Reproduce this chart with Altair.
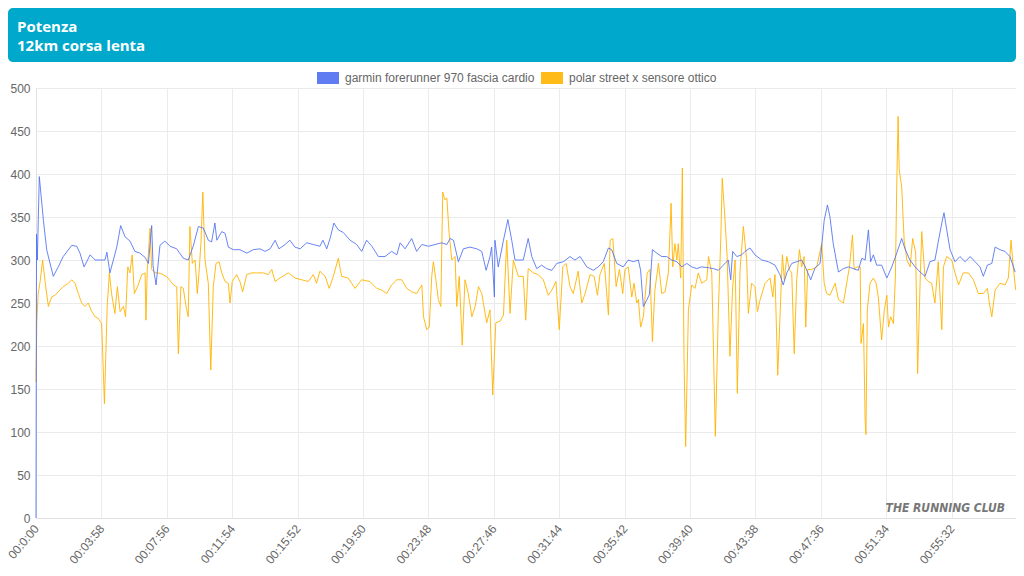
import altair as alt
import pandas as pd

# ---- data (seconds, watts) ----
garmin_t = [0, 2, 5, 7, 12, 27, 39, 48, 63, 81, 99, 130, 148, 160, 175, 197, 215, 233, 251, 258,
            269, 294, 308, 324, 342, 360, 378, 397, 409, 421, 426, 437, 451, 469, 488, 512, 536, 554,
            572, 591, 609, 627, 639, 651, 658, 676, 688, 700, 718, 742, 767, 791, 815, 833, 852, 870,
            884, 906, 924, 942, 961, 985, 1009, 1033, 1044, 1058, 1070, 1084, 1100, 1118, 1143, 1167,
            1185, 1203, 1222, 1246, 1270, 1294, 1313, 1325, 1343, 1367, 1385, 1404, 1428, 1452, 1476,
            1495, 1507, 1519, 1537, 1555, 1579, 1604, 1622, 1638, 1652, 1658, 1668, 1670, 1682, 1701,
            1717, 1731, 1743, 1758, 1773, 1791, 1804, 1822, 1840, 1858, 1877, 1895, 1919, 1943, 1961,
            1980, 2004, 2028, 2046, 2064, 2083, 2095, 2113, 2137, 2155, 2174, 2192, 2200, 2210, 2222,
            2232, 2243, 2259, 2277, 2295, 2313, 2332, 2350, 2368, 2386, 2404, 2422, 2447, 2465, 2483,
            2501, 2519, 2528, 2535, 2550, 2568, 2580, 2598, 2616, 2641, 2665, 2689, 2707, 2719, 2732,
            2750, 2768, 2786, 2798, 2819, 2835, 2853, 2868, 2880, 2889, 2901, 2920, 2938, 2956, 2974,
            2992, 3005, 3017, 3029, 3037, 3047, 3059, 3077, 3096, 3114, 3132, 3150, 3162, 3180, 3199,
            3217, 3235, 3253, 3271, 3283, 3296, 3304, 3314, 3326, 3344, 3362, 3381, 3399, 3417, 3435,
            3447, 3462, 3478, 3490, 3508, 3526, 3544, 3563]
garmin_v = [0, 330, 300, 330, 397, 346, 312, 300, 281, 292, 304, 317, 316, 308, 292, 306, 300, 300, 300, 309,
            285, 315, 340, 327, 322, 310, 308, 303, 296, 340, 293, 271, 317, 322, 316, 313, 302, 300,
            316, 339, 337, 323, 321, 343, 323, 333, 331, 315, 312, 312, 308, 312, 313, 310, 313, 323,
            313, 318, 323, 315, 313, 320, 318, 316, 323, 313, 325, 343, 335, 332, 323, 318,
            310, 323, 316, 304, 304, 310, 306, 320, 313, 325, 310, 318, 316, 318, 320,
            318, 325, 323, 298, 313, 315, 313, 310, 288, 304, 315, 257, 323, 292, 323,
            347, 323, 300, 300, 300, 325, 304, 290, 294, 290, 288, 296, 298, 304, 300,
            304, 292, 288, 292, 298, 314, 312, 296, 292, 300, 298, 300, 288, 246, 253,
            260, 312, 308, 304, 304, 300, 298, 292, 296, 292, 290, 292, 291, 290, 288,
            294, 300, 277, 310, 304, 306, 310, 314, 306, 300, 298, 294, 283, 271, 285,
            296, 298, 300, 293, 277, 291, 296, 346, 364, 350, 319, 286, 290, 292, 290,
            288, 302, 300, 335, 298, 306, 294, 294, 279, 292, 308, 325, 313, 300, 292,
            286, 281, 298, 300, 321, 343, 355, 335, 312, 298, 304, 298, 304, 298, 292,
            281, 294, 296, 315, 312, 310, 304, 286]

polar_t = [0, 3, 8, 15, 24, 33, 45, 57, 69, 81, 99, 118, 130, 142, 154, 166, 178, 190, 203, 215,
           227, 239, 249, 259, 267, 275, 287, 296, 306, 318, 326, 334, 342, 350, 358, 372, 385, 397,
           400, 405, 415, 421, 433, 445, 463, 481, 500, 512, 518, 527, 536, 546, 554, 560, 569, 579,
           587, 594, 600, 607, 615, 627, 636, 645, 655, 666, 676, 688, 700, 706, 714, 730, 742, 752,
           767, 785, 803, 827, 845, 858, 870, 888, 918, 943, 967, 991, 1009, 1021, 1033, 1052, 1067,
           1082, 1100, 1112, 1136, 1161, 1185, 1215, 1240, 1258, 1276, 1294, 1313, 1331, 1349, 1367,
           1385, 1404, 1410, 1422, 1431, 1440, 1446, 1455, 1464, 1473, 1480, 1488, 1495, 1503, 1513,
           1525, 1531, 1540, 1551, 1561, 1573, 1586, 1598, 1610, 1622, 1640, 1652, 1662, 1673, 1689,
           1701, 1713, 1725, 1737, 1755, 1773, 1782, 1791, 1810, 1828, 1846, 1864, 1877, 1892, 1904,
           1917, 1929, 1943, 1955, 1973, 1986, 1998, 2016, 2031, 2043, 2052, 2068, 2083, 2089, 2099,
           2111, 2123, 2135, 2143, 2155, 2168, 2176, 2186, 2192, 2200, 2210, 2224, 2234, 2243, 2252,
           2265, 2277, 2289, 2301, 2311, 2317, 2325, 2332, 2337, 2346, 2352, 2358, 2364, 2374, 2386,
           2398, 2410, 2422, 2441, 2447, 2459, 2472, 2483, 2492, 2497, 2505, 2515, 2525, 2535, 2544,
           2552, 2562, 2574, 2586, 2592, 2604, 2616, 2625, 2635, 2653, 2671, 2681, 2689, 2699, 2710,
           2716, 2723, 2732, 2741, 2750, 2759, 2768, 2778, 2786, 2795, 2801, 2808, 2823, 2841, 2859,
           2868, 2877, 2889, 2908, 2920, 2938, 2952, 2960, 2971, 2977, 2987, 2999, 3002, 3011, 3017,
           3020, 3025, 3035, 3047, 3057, 3065, 3077, 3087, 3096, 3102, 3110, 3120, 3127, 3132, 3137,
           3141, 3150, 3159, 3169, 3181, 3190, 3201, 3208, 3217, 3223, 3235, 3247, 3259, 3271, 3283,
           3296, 3302, 3314, 3332, 3344, 3357, 3374, 3393, 3411, 3429, 3447, 3462, 3469, 3478, 3490,
           3508, 3526, 3538, 3548, 3556, 3565]
polar_v = [158, 228, 261, 275, 300, 275, 246, 257, 259, 263, 269, 273, 277, 273, 261, 250, 246, 250, 240, 234,
           232, 226, 133, 246, 285, 261, 238, 269, 240, 246, 234, 292, 285, 306, 261, 271, 283, 285,
           230, 289, 337, 289, 285, 285, 283, 279, 271, 269, 191, 269, 267, 246, 234, 339, 296, 300,
           261, 289, 319, 379, 300, 273, 172, 269, 296, 298, 285, 275, 273, 250, 275, 283, 275, 263,
           283, 285, 285, 285, 283, 289, 275, 279, 285, 279, 277, 275, 283, 273, 287, 281, 267,
           281, 302, 281, 279, 267, 277, 275, 267, 265, 261, 271, 277, 277, 267, 263,
           261, 271, 234, 219, 222, 281, 298, 277, 254, 246, 379, 370, 372, 332, 300,
           304, 246, 281, 201, 277, 261, 234, 246, 269, 261, 227, 242, 143, 227, 229,
           236, 323, 238, 300, 281, 281, 230, 290, 285, 283, 277, 259, 265, 275, 219,
           292, 296, 269, 261, 287, 250, 261, 283, 281, 259, 283, 296, 236, 323, 325,
           269, 289, 261, 289, 292, 257, 273, 250, 254, 222, 234, 285, 289, 205, 265,
           296, 261, 263, 285, 366, 292, 319, 300, 319, 279, 407, 184, 83, 242, 271,
           267, 285, 273, 277, 304, 285, 95, 242, 327, 395, 358, 304, 188, 269, 300,
           145, 289, 339, 300, 238, 273, 269, 240, 254, 273, 279, 257, 283, 166, 257,
           306, 277, 304, 289, 285, 191, 277, 312, 292, 304, 222, 289, 289, 292, 319,
           273, 261, 259, 273, 254, 250, 277, 292, 329, 289, 292, 292, 203, 226, 114,
           97, 242, 273, 279, 273, 257, 207, 242, 259, 222, 234, 226, 279, 385, 467,
           405, 385, 323, 300, 292, 325, 308, 168, 273, 333, 279, 275, 273, 250, 298,
           219, 292, 304, 300, 285, 271, 285, 285, 277, 261, 261, 267, 250, 234, 265,
           273, 271, 279, 323, 292, 265]

series_names = ["garmin forerunner 970 fascia cardio", "polar street x sensore ottico"]
series_colors = ["#4e6ef2", "#ffb400"]

tick_secs = [0, 238, 476, 714, 952, 1190, 1428, 1666, 1904, 2142, 2380, 2618, 2856, 3094, 3332]
tick_labels = ["00:0:00", "00:03:58", "00:07:56", "00:11:54", "00:15:52", "00:19:50", "00:23:48",
               "00:27:46", "00:31:44", "00:35:42", "00:39:40", "00:43:38", "00:47:36", "00:51:34",
               "00:55:32"]
y_ticks = [0, 50, 100, 150, 200, 250, 300, 350, 400, 450, 500]

title_lines = ["Potenza", "12km corsa lenta"]
watermark = "THE RUNNING CLUB"

df_g = pd.DataFrame({"t": garmin_t, "v": garmin_v, "s": series_names[0]})
df_p = pd.DataFrame({"t": polar_t, "v": polar_v, "s": series_names[1]})

label_expr = "[" + ",".join("'%s'" % l for l in tick_labels) + "][round(datum.value/238)]"

W, H = 980, 430

x_enc = alt.X("t:Q", scale=alt.Scale(domain=[0, 3566], nice=False, zero=False),
              axis=alt.Axis(values=tick_secs, labelExpr=label_expr, labelAngle=-50, title=None,
                            grid=True, ticks=False, labelPadding=8))
y_enc = alt.Y("v:Q", scale=alt.Scale(domain=[0, 500], nice=False),
              axis=alt.Axis(values=y_ticks, title=None, grid=True, ticks=False, labelPadding=6))
color_enc = alt.Color("s:N", scale=alt.Scale(domain=series_names, range=series_colors),
                      legend=alt.Legend(orient="none", legendX=275, legendY=-27, direction="horizontal",
                                        title=None, symbolType="M-1,0H1", symbolSize=484,
                                        symbolStrokeWidth=12, labelOffset=0, columnPadding=-27,
                                        labelFontSize=12, labelColor="#666666", labelLimit=500,
                                        labelFont="Liberation Sans", padding=0))

polar_line = alt.Chart(df_p).mark_line(strokeWidth=1, opacity=0.9).encode(x=x_enc, y=y_enc, color=color_enc)
garmin_line = alt.Chart(df_g).mark_line(strokeWidth=1, opacity=0.85).encode(x=x_enc, y=y_enc, color=color_enc)

one = alt.Data(values=[{"k": 0}])
banner = alt.Chart(one).mark_rect(color="#00a9cc", cornerRadius=5).encode(
    x=alt.value(-28), x2=alt.value(W), y=alt.value(-80), y2=alt.value(-26))
t1 = alt.Chart(one).mark_text(align="left", baseline="alphabetic", font="Open Sans", fontWeight="bold",
                              fontSize=15, color="white", text=title_lines[0]).encode(
    x=alt.value(-19), y=alt.value(-56))
t2 = alt.Chart(one).mark_text(align="left", baseline="alphabetic", font="Open Sans", fontWeight="bold",
                              fontSize=15, color="white", text=title_lines[1]).encode(
    x=alt.value(-19), y=alt.value(-37))
wm = alt.Chart(one).mark_text(align="right", baseline="middle",
                              font="DejaVu Sans Condensed, Liberation Sans",
                              fontWeight="bold", fontStyle="italic", fontSize=12, color="#777777",
                              text=watermark).encode(x=alt.value(969), y=alt.value(420))

chart = alt.layer(banner, t1, t2, polar_line, garmin_line, wm).properties(
    width=W, height=H,
    autosize=alt.AutoSizeParams(type="none"),
    padding={"left": 28, "top": 80, "right": 0, "bottom": 50},
).configure_view(stroke=None).configure_axis(
    labelFont="Liberation Sans", labelFontSize=12, labelColor="#666666",
    gridColor="#ebebeb", domainColor="#e0e0e0")

chart.save("out.html", embed_options={"renderer": "svg", "actions": False})
